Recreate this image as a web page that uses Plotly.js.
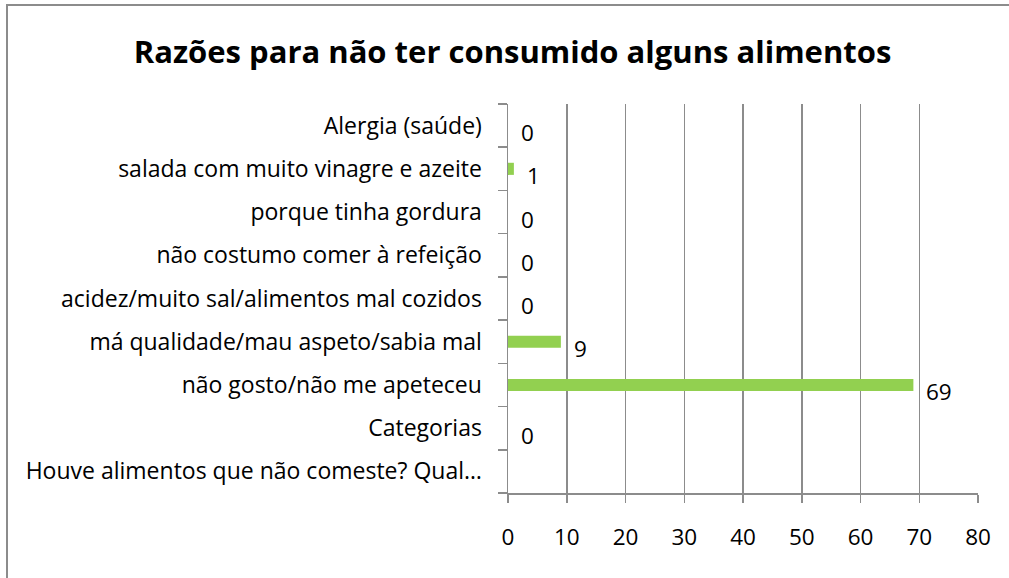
<!DOCTYPE html>
<html>
<head>
<meta charset="utf-8">
<script src="https://cdn.plot.ly/plotly-3.0.1.min.js"></script>
<style>
  html, body { margin: 0; padding: 0; background: #fff; }
  #wrap { position: relative; width: 1009px; height: 578px; overflow: hidden; }
  #chart { width: 1009px; height: 578px; }
  #frame { position: absolute; left: 6px; top: 4px; width: 1010px; height: 580px;
           border-left: 2px solid #8c8c8c; border-top: 2px solid #8c8c8c; pointer-events: none; }
</style>
</head>
<body>
<div id="wrap">
  <div id="chart"></div>
  <div id="frame"></div>
</div>
<script>
// Categories, bottom to top
const categories = [
  "Houve alimentos que não comeste? Qual…",
  "Categorias",
  "não gosto/não me apeteceu",
  "má qualidade/mau aspeto/sabia mal",
  "acidez/muito sal/alimentos mal cozidos",
  "não costumo comer à refeição",
  "porque tinha gordura",
  "salada com muito vinagre e azeite",
  "Alergia (saúde)"
];
const values = [null, 0, 69, 9, 0, 0, 0, 1, 0];
const xTicks = [0, 10, 20, 30, 40, 50, 60, 70, 80];
const chartTitle = "Razões para não ter consumido alguns alimentos";

const FONT = "Open Sans, Noto Sans, sans-serif";
const NUM_SIZE = 22.5;
const CAT_SIZE = 23;

const trace = {
  type: "bar",
  orientation: "h",
  y: categories,
  x: values,
  marker: { color: "#92D050" },
  hoverinfo: "x+y"
};

const annotations = [];
values.forEach((v, i) => {
  if (v === null) return;
  annotations.push({
    x: v, y: categories[i], xref: "x", yref: "y",
    text: String(v), showarrow: false,
    xanchor: "left", xshift: 11, yshift: -7,
    font: { family: FONT, size: NUM_SIZE, color: "#000" }
  });
});

const layout = {
  width: 1009, height: 578,
  margin: { l: 508, r: 31, t: 104, b: 85, pad: 0 },
  paper_bgcolor: "#fff", plot_bgcolor: "#fff",
  showlegend: false,
  bargap: 0.72,
  title: {
    text: "<b>" + chartTitle + "</b>",
    x: 0.508, xref: "container", xanchor: "center",
    y: 0.91, yref: "container", yanchor: "middle",
    font: { family: FONT, size: 31, color: "#000" }
  },
  xaxis: {
    range: [0, 80],
    tickvals: xTicks,
    ticktext: xTicks.map(String),
    showgrid: true, gridcolor: "#8c8c8c", gridwidth: 1.5,
    zeroline: false,
    showline: true, linecolor: "#8c8c8c", linewidth: 1.5,
    ticks: "outside", ticklen: 8, tickcolor: "#8c8c8c", tickwidth: 1.5,
    ticklabelstandoff: 15,
    tickfont: { family: FONT, size: NUM_SIZE, color: "#000" },
    fixedrange: true
  },
  yaxis: {
    type: "category",
    categoryorder: "array", categoryarray: categories,
    showgrid: false, zeroline: false,
    showline: true, linecolor: "#8c8c8c", linewidth: 1.5,
    ticks: "outside", ticklen: 9, tickcolor: "#8c8c8c", tickwidth: 1.5,
    tickson: "boundaries",
    ticklabelstandoff: 20,
    tickfont: { family: FONT, size: CAT_SIZE, color: "#000" },
    fixedrange: true
  },
  annotations: annotations
};

Plotly.newPlot("chart", [trace], layout, { displayModeBar: false, staticPlot: true });
</script>
</body>
</html>
